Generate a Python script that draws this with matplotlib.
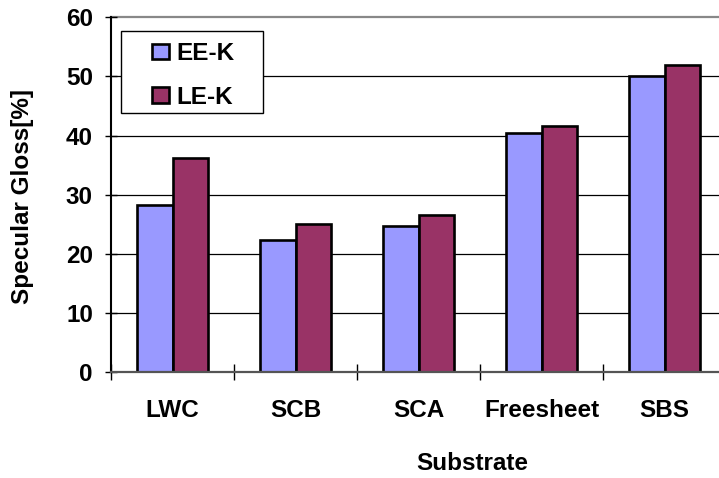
import numpy as np
import matplotlib
matplotlib.use('Agg')
import matplotlib.pyplot as plt
from matplotlib.patches import Rectangle
from matplotlib.ticker import FixedLocator, NullFormatter

plt.rcParams['font.family'] = ['Liberation Sans', 'DejaVu Sans']
plt.rcParams['font.weight'] = 'bold'

# gloss per substrate
substrates = ['LWC', 'SCB', 'SCA', 'Freesheet', 'SBS']
ee_k = [28.3, 22.3, 24.8, 40.4, 50.0]
le_k = [36.2, 25.0, 26.6, 41.7, 51.9]
y_ticks = [0, 10, 20, 30, 40, 50, 60]

W, H = 719, 478
fig = plt.figure(figsize=(W / 100, H / 100), dpi=100)
ax = fig.add_axes([111 / W, 1 - 372.3 / H, 615 / W, 355 / H])

x = np.arange(len(substrates))
w = 0.289
ax.bar(x - w / 2, ee_k, w, color='#9999FF', edgecolor='black', linewidth=1.9,
       label='EE-K', zorder=3)
ax.bar(x + w / 2, le_k, w, color='#993366', edgecolor='black', linewidth=1.9,
       label='LE-K', zorder=3)

ax.set_xlim(-0.5, len(substrates) - 0.5)
ax.set_ylim(0, 60)

# gridlines
for v in y_ticks[1:]:
    ax.axhline(v, color='black' if v < 60 else '#888888',
               linewidth=0.9 if v < 60 else 1.6, zorder=1, clip_on=False)

ax.set_yticks(y_ticks)
ax.tick_params(axis='y', direction='inout', length=8, width=1, pad=9,
               labelsize=17.5)

# tick marks between categories, labels at category centres
ax.xaxis.set_major_locator(FixedLocator(np.arange(len(substrates)) - 0.5))
ax.xaxis.set_major_formatter(NullFormatter())
ax.xaxis.set_minor_locator(FixedLocator(x))
ax.set_xticklabels(substrates, minor=True)
ax.tick_params(axis='x', which='major', direction='inout', length=11.5, width=1)
ax.tick_params(axis='x', which='minor', length=0, pad=19, labelsize=17.5)

for s in ['top', 'right']:
    ax.spines[s].set_visible(False)
ax.spines['left'].set_linewidth(1.5)
ax.spines['bottom'].set_linewidth(1.6)
ax.spines['bottom'].set_color('#555555')
ax.spines['bottom'].set_zorder(4)

fig.text(23 / W, 1 - 196 / H, 'Specular Gloss[%]', rotation=90, fontsize=17.5,
         fontweight='bold', ha='center', va='center')
fig.text(472 / W, 1 - 464 / H, 'Substrate', fontsize=17.5, fontweight='bold',
         ha='center', va='center')

# legend box
fig.patches.append(Rectangle((121 / W, 1 - 113 / H), 142 / W, 82 / H,
                             transform=fig.transFigure, facecolor='white',
                             edgecolor='black', linewidth=1.0, zorder=5))
leg = fig.legend(loc='upper left', bbox_to_anchor=(152 / W, 1 - 42 / H),
                 bbox_transform=fig.transFigure, fontsize=17.5, frameon=False,
                 borderpad=0, labelspacing=0.85, handlelength=0.7,
                 handleheight=0.6, handletextpad=0.3, borderaxespad=0)
leg.set_zorder(6)

fig.savefig('out.png', dpi=100)
